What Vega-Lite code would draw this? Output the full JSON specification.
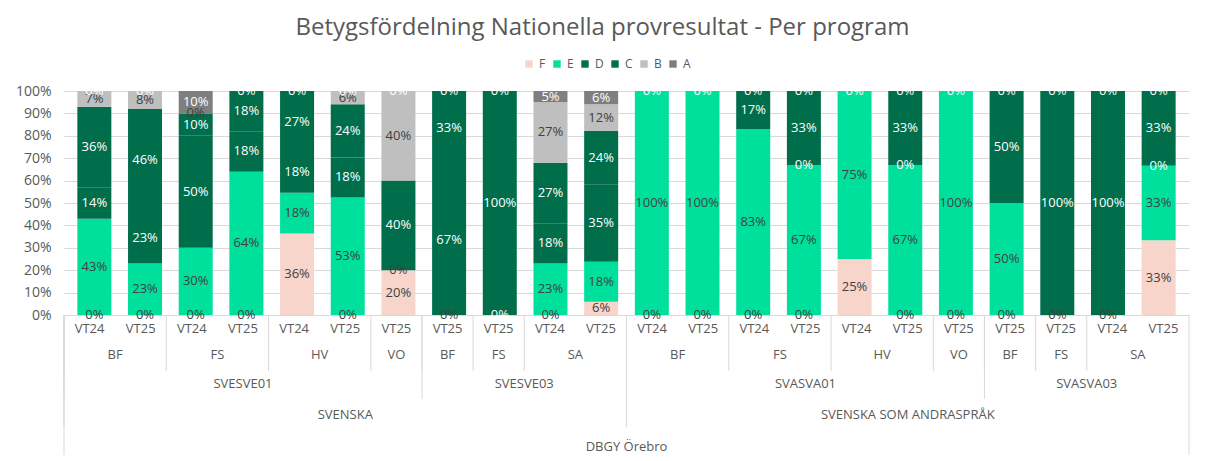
{
  "$schema": "https://vega.github.io/schema/vega-lite/v6.json",
  "padding": {"left": 15, "top": 16, "right": 18, "bottom": 4},
  "background": "white",
  "bounds": "flush",
  "title": {"text": "Betygsfördelning Nationella provresultat - Per program", "fontSize": 24, "font": "Open Sans", "fontWeight": "normal", "color": "#595959", "anchor": "middle", "frame": "bounds", "offset": 18},
  "config": {"view": {"stroke": null}, "font": "Open Sans"},
  "spacing": 0,
  "datasets": {
    "bars": [
      {"school": "DBGY Örebro", "subject": "SVENSKA", "course": "SVESVE01", "program": "BF", "term": "VT24", "F": 0, "E": 0.43, "D": 0.14, "C": 0.36, "B": 0.07, "A": 0},
      {"school": "DBGY Örebro", "subject": "SVENSKA", "course": "SVESVE01", "program": "BF", "term": "VT25", "F": 0, "E": 0.23, "D": 0.23, "C": 0.46, "B": 0.08, "A": 0},
      {"school": "DBGY Örebro", "subject": "SVENSKA", "course": "SVESVE01", "program": "FS", "term": "VT24", "F": 0, "E": 0.30, "D": 0.50, "C": 0.10, "B": 0, "A": 0.10},
      {"school": "DBGY Örebro", "subject": "SVENSKA", "course": "SVESVE01", "program": "FS", "term": "VT25", "F": 0, "E": 0.64, "D": 0.18, "C": 0.18, "A": 0},
      {"school": "DBGY Örebro", "subject": "SVENSKA", "course": "SVESVE01", "program": "HV", "term": "VT24", "F": 0.36, "E": 0.18, "D": 0.18, "C": 0.27, "A": 0},
      {"school": "DBGY Örebro", "subject": "SVENSKA", "course": "SVESVE01", "program": "HV", "term": "VT25", "F": 0, "E": 0.53, "D": 0.18, "C": 0.24, "B": 0.06, "A": 0},
      {"school": "DBGY Örebro", "subject": "SVENSKA", "course": "SVESVE01", "program": "VO", "term": "VT25", "F": 0.20, "E": 0, "D": 0.40, "B": 0.40, "A": 0},
      {"school": "DBGY Örebro", "subject": "SVENSKA", "course": "SVESVE03", "program": "BF", "term": "VT25", "E": 0, "D": 0.67, "C": 0.33, "A": 0},
      {"school": "DBGY Örebro", "subject": "SVENSKA", "course": "SVESVE03", "program": "FS", "term": "VT25", "D": 0, "C": 1.0, "A": 0},
      {"school": "DBGY Örebro", "subject": "SVENSKA", "course": "SVESVE03", "program": "SA", "term": "VT24", "F": 0, "E": 0.23, "D": 0.18, "C": 0.27, "B": 0.27, "A": 0.05},
      {"school": "DBGY Örebro", "subject": "SVENSKA", "course": "SVESVE03", "program": "SA", "term": "VT25", "F": 0.06, "E": 0.18, "D": 0.35, "C": 0.24, "B": 0.12, "A": 0.06},
      {"school": "DBGY Örebro", "subject": "SVENSKA SOM ANDRASPRÅK", "course": "SVASVA01", "program": "BF", "term": "VT24", "F": 0, "E": 1.0, "A": 0},
      {"school": "DBGY Örebro", "subject": "SVENSKA SOM ANDRASPRÅK", "course": "SVASVA01", "program": "BF", "term": "VT25", "F": 0, "E": 1.0, "A": 0},
      {"school": "DBGY Örebro", "subject": "SVENSKA SOM ANDRASPRÅK", "course": "SVASVA01", "program": "FS", "term": "VT24", "F": 0, "E": 0.83, "C": 0.17, "A": 0},
      {"school": "DBGY Örebro", "subject": "SVENSKA SOM ANDRASPRÅK", "course": "SVASVA01", "program": "FS", "term": "VT25", "F": 0, "E": 0.67, "D": 0, "C": 0.33, "A": 0},
      {"school": "DBGY Örebro", "subject": "SVENSKA SOM ANDRASPRÅK", "course": "SVASVA01", "program": "HV", "term": "VT24", "F": 0.25, "E": 0.75, "A": 0},
      {"school": "DBGY Örebro", "subject": "SVENSKA SOM ANDRASPRÅK", "course": "SVASVA01", "program": "HV", "term": "VT25", "F": 0, "E": 0.67, "D": 0, "C": 0.33, "A": 0},
      {"school": "DBGY Örebro", "subject": "SVENSKA SOM ANDRASPRÅK", "course": "SVASVA01", "program": "VO", "term": "VT25", "F": 0, "E": 1.0, "A": 0},
      {"school": "DBGY Örebro", "subject": "SVENSKA SOM ANDRASPRÅK", "course": "SVASVA03", "program": "BF", "term": "VT25", "F": 0, "E": 0.50, "C": 0.50, "A": 0},
      {"school": "DBGY Örebro", "subject": "SVENSKA SOM ANDRASPRÅK", "course": "SVASVA03", "program": "FS", "term": "VT25", "E": 0, "C": 1.0, "A": 0},
      {"school": "DBGY Örebro", "subject": "SVENSKA SOM ANDRASPRÅK", "course": "SVASVA03", "program": "SA", "term": "VT24", "E": 0, "C": 1.0, "A": 0},
      {"school": "DBGY Örebro", "subject": "SVENSKA SOM ANDRASPRÅK", "course": "SVASVA03", "program": "SA", "term": "VT25", "F": 0.33, "E": 0.33, "D": 0, "C": 0.33, "A": 0}
    ]
  },
  "vconcat": [
    {
      "width": 1125,
      "height": 224,
      "data": {"name": "bars"},
      "transform": [
        {"window": [{"op": "row_number", "as": "idx"}]},
        {"fold": ["F", "E", "D", "C", "B", "A"], "as": ["grade", "value"]},
        {"filter": "isValid(datum.value)"}
      ],
      "encoding": {
        "x": {"field": "idx", "type": "quantitative", "scale": {"domain": [0.5, 22.5], "nice": false, "zero": false}, "axis": null},
        "order": {"field": "grade", "sort": "descending"}
      },
      "layer": [
        {
          "mark": {"type": "bar", "size": 34},
          "encoding": {
            "y": {"field": "value", "type": "quantitative", "stack": "normalize", "scale": {"domain": [0, 1], "nice": false},
              "axis": {"format": ".0%", "values": [0, 0.1, 0.2, 0.3, 0.4, 0.5, 0.6, 0.7, 0.8, 0.9, 1], "labelOverlap": false, "grid": true, "gridColor": "#d9d9d9", "domain": false, "ticks": false, "labelFontSize": 14, "labelColor": "#595959", "labelPadding": 13, "title": null}},
            "color": {"field": "grade", "type": "nominal",
              "scale": {"domain": ["F", "E", "D", "C", "B", "A"], "range": ["#f8d5cb", "#00e09d", "#006e4b", "#006e4b", "#bfbfbf", "#7f7f7f"]},
              "legend": {"orient": "none", "legendX": 459, "legendY": -33, "direction": "horizontal", "title": null, "symbolType": "square", "symbolSize": 55, "symbolStrokeWidth": 0, "labelFontSize": 12, "labelColor": "#595959", "columnPadding": 5, "labelOffset": 4}}
          }
        },
        {
          "mark": {"type": "text", "fontSize": 13, "baseline": "middle"},
          "encoding": {
            "y": {"field": "value", "type": "quantitative", "stack": "normalize", "bandPosition": 0.5,
              "axis": {"format": ".0%", "values": [0, 0.1, 0.2, 0.3, 0.4, 0.5, 0.6, 0.7, 0.8, 0.9, 1], "labelOverlap": false, "grid": true, "gridColor": "#d9d9d9", "domain": false, "ticks": false, "labelFontSize": 14, "labelColor": "#595959", "labelPadding": 13, "title": null}},
            "text": {"field": "value", "type": "quantitative", "format": ".0%"},
            "color": {"condition": {"test": "datum.grade === 'D' || datum.grade === 'C' || datum.grade === 'A'", "value": "#ffffff"}, "value": "#404040"}
          }
        }
      ]
    },
    {
      "width": 1125,
      "height": 140,
      "data": {"name": "bars"},
      "transform": [{"window": [{"op": "row_number", "as": "idx"}]}],
      "layer": [
        {
          "mark": {"type": "text", "fontSize": 13, "color": "#595959", "dy": 0},
          "encoding": {
            "x": {"field": "idx", "type": "quantitative", "scale": {"domain": [0.5, 22.5], "nice": false, "zero": false}, "axis": null},
            "y": {"datum": "term", "type": "nominal", "scale": {"type": "band", "domain": ["term", "program", "course", "subject", "school"], "paddingInner": 0, "paddingOuter": 0}, "axis": null},
            "text": {"field": "term"}
          }
        },
        {
          "transform": [{"aggregate": [{"op": "mean", "field": "idx", "as": "mid"}, {"op": "min", "field": "idx", "as": "start"}], "groupby": ["subject", "course", "program"]}],
          "layer": [
            {"mark": {"type": "text", "fontSize": 13, "color": "#595959", "dy": -2},
              "encoding": {"x": {"field": "mid", "type": "quantitative"}, "y": {"datum": "program", "type": "nominal"}, "text": {"field": "program"}}},
            {"mark": {"type": "rule", "color": "#d9d9d9", "xOffset": -25.57},
              "encoding": {"x": {"field": "start", "type": "quantitative"}, "y": {"datum": "term", "type": "nominal", "bandPosition": 0}, "y2": {"datum": "program", "bandPosition": 1}}}
          ]
        },
        {
          "transform": [{"aggregate": [{"op": "mean", "field": "idx", "as": "mid"}, {"op": "min", "field": "idx", "as": "start"}], "groupby": ["subject", "course"]}],
          "layer": [
            {"mark": {"type": "text", "fontSize": 13, "color": "#595959", "dy": -1},
              "encoding": {"x": {"field": "mid", "type": "quantitative"}, "y": {"datum": "course", "type": "nominal"}, "text": {"field": "course"}}},
            {"mark": {"type": "rule", "color": "#d9d9d9", "xOffset": -25.57},
              "encoding": {"x": {"field": "start", "type": "quantitative"}, "y": {"datum": "term", "type": "nominal", "bandPosition": 0}, "y2": {"datum": "course", "bandPosition": 1}}}
          ]
        },
        {
          "transform": [{"aggregate": [{"op": "mean", "field": "idx", "as": "mid"}, {"op": "min", "field": "idx", "as": "start"}], "groupby": ["subject"]}],
          "layer": [
            {"mark": {"type": "text", "fontSize": 13, "color": "#595959", "dy": 2},
              "encoding": {"x": {"field": "mid", "type": "quantitative"}, "y": {"datum": "subject", "type": "nominal"}, "text": {"field": "subject"}}},
            {"mark": {"type": "rule", "color": "#d9d9d9", "xOffset": -25.57},
              "encoding": {"x": {"field": "start", "type": "quantitative"}, "y": {"datum": "term", "type": "nominal", "bandPosition": 0}, "y2": {"datum": "subject", "bandPosition": 1}}}
          ]
        },
        {
          "transform": [{"aggregate": [{"op": "mean", "field": "idx", "as": "mid"}, {"op": "min", "field": "idx", "as": "start"}, {"op": "max", "field": "idx", "as": "end"}], "groupby": ["school"]}],
          "layer": [
            {"mark": {"type": "text", "fontSize": 13, "color": "#595959", "dy": 6},
              "encoding": {"x": {"field": "mid", "type": "quantitative"}, "y": {"datum": "school", "type": "nominal"}, "text": {"field": "school"}}},
            {"mark": {"type": "rule", "color": "#d9d9d9", "xOffset": -25.57},
              "encoding": {"x": {"field": "start", "type": "quantitative"}, "y": {"datum": "term", "type": "nominal", "bandPosition": 0}, "y2": {"datum": "school", "bandPosition": 1}}},
            {"mark": {"type": "rule", "color": "#d9d9d9", "xOffset": 25.57},
              "encoding": {"x": {"field": "end", "type": "quantitative"}, "y": {"datum": "term", "type": "nominal", "bandPosition": 0}, "y2": {"datum": "school", "bandPosition": 1}}}
          ]
        }
      ]
    }
  ]
}
